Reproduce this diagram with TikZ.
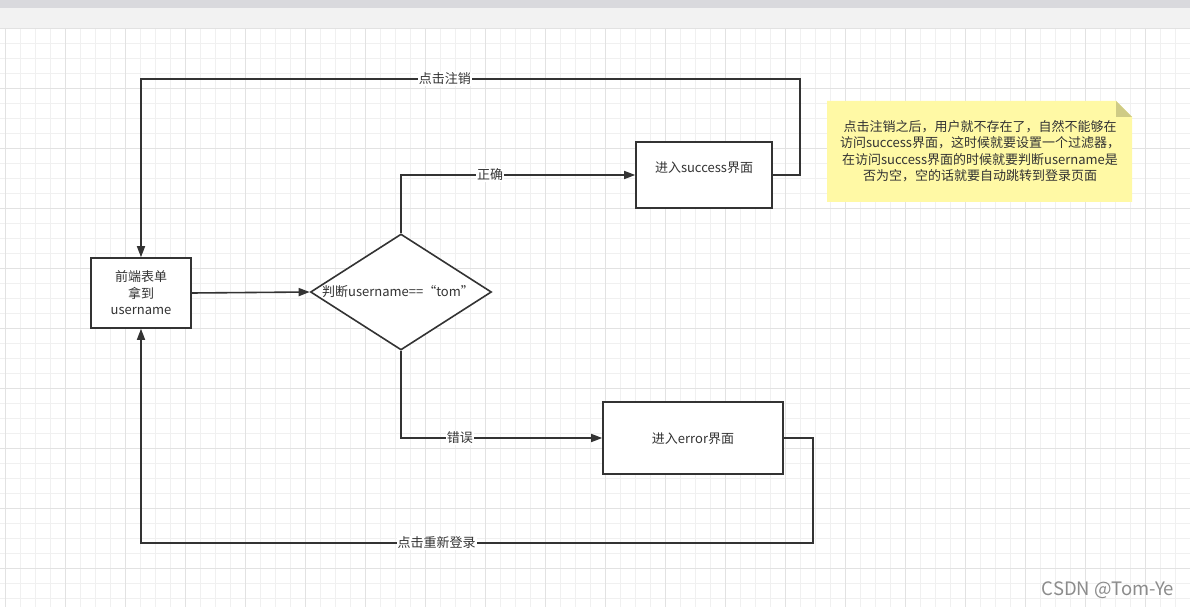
\documentclass[tikz,border=0pt]{standalone}
\usepackage{fontspec}
\setmainfont{Noto Sans CJK SC}
\usetikzlibrary{arrows.meta,shapes.geometric}
\definecolor{ink}{HTML}{333333}
\definecolor{gridminor}{HTML}{F0F0F0}
\definecolor{gridmajor}{HTML}{E2E2E2}
\definecolor{topbar}{HTML}{D9D9DD}
\definecolor{band}{HTML}{F2F2F2}
\definecolor{notefill}{HTML}{FFF9A5}
\definecolor{notefold}{HTML}{CFCB85}
\definecolor{wm}{HTML}{8C8C8C}
\begin{document}
\begin{tikzpicture}[x=1bp,y=-1bp,
  txt/.style={font=\fontsize{13bp}{16.5bp}\selectfont, text=ink, inner sep=0pt, align=center},
  box/.style={draw=ink, line width=1.6bp, fill=white, inner sep=0pt},
  edge/.style={draw=ink, line width=1.6bp, -{Triangle[length=11bp,width=8bp]}},
  plain/.style={draw=ink, line width=1.6bp},
  lbl/.style={txt, fill=white, inner xsep=1bp, inner ysep=1bp}]
\useasboundingbox (0,0) rectangle (1190,607);
\fill[white] (0,0) rectangle (1190,607);
% grid
\foreach \x in {5,20,...,1190} \draw[gridminor, line width=0.8bp] (\x,28) -- (\x,607);
\foreach \y in {28,43,...,607} \draw[gridminor, line width=0.8bp] (0,\y) -- (1190,\y);
\foreach \x in {5,65,...,1190} \draw[gridmajor, line width=0.8bp] (\x,28) -- (\x,607);
\foreach \y in {28,88,...,607} \draw[gridmajor, line width=0.8bp] (0,\y) -- (1190,\y);
% top bars
\fill[topbar] (0,0) rectangle (1190,8);
\fill[band] (0,8) rectangle (1190,28);

% nodes
\node[box, minimum width=100bp, minimum height=70bp] (form) at (141,293) {};
\node[txt] (formT) at (141,293) {前端表单\\拿到\\username};
\node[diamond, draw=ink, line width=1.6bp, fill=white, inner sep=0pt, aspect=1.56,
      minimum width=181bp, minimum height=116bp] (dia) at (401,292) {};
\node[txt] (diaT) at (398,292) {判断username==“tom”};
\node[box, minimum width=136bp, minimum height=66bp] (succ) at (704,175) {};
\node[txt] (succT) at (704,168) {进入success界面};
\node[box, minimum width=180bp, minimum height=72bp] (err) at (693,438) {};
\node[txt] (errT) at (693,439) {进入error界面};

% note
\fill[notefill] (827,101) -- (1116,101) -- (1132,117) -- (1132,202) -- (827,202) -- cycle;
\fill[notefold] (1116,101) -- (1132,117) -- (1116,117) -- cycle;
\node[txt] (note) at (980,151) {点击注销之后，用户就不存在了，自然不能够在\\访问success界面，这时候就要设置一个过滤器，\\在访问success界面的时候就要判断username是\\否为空，空的话就要自动跳转到登录页面};

% coordinates for loops
\coordinate (c1) at (800,79);
\coordinate (c2) at (141,79);
\coordinate (c3) at (813,543);
\coordinate (c4) at (141,543);

% connectors
\draw[edge] (form.east) -- (dia.west);
\draw[edge] (dia.north) |- node[lbl, pos=0.69] {正确} (succ.west);
\draw[edge] (dia.south) |- node[lbl, pos=0.646] {错误} (err.west);
\draw[edge] (succ.east) -| (c1) -- node[lbl, pos=0.539] {点击注销} (c2) -- (form.north);
\draw[edge] (err.east) -| (c3) -- node[lbl, pos=0.56] {点击重新登录} (c4) -- (form.south);

% watermark
\node[font=\fontsize{18.5bp}{22bp}\selectfont, text=wm, inner sep=0pt] (wmark) at (1108,590) {CSDN @Tom-Ye};
\end{tikzpicture}
\end{document}
